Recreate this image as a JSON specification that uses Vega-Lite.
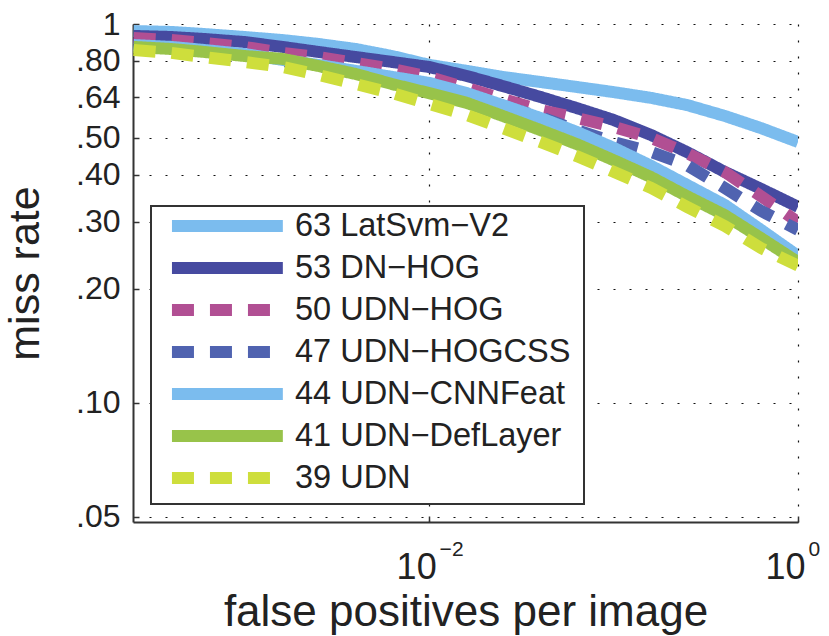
{
  "$schema": "https://vega.github.io/schema/vega-lite/v6.json",
  "width": 665,
  "height": 498,
  "autosize": {"type": "none"},
  "padding": {"left": 133, "top": 24, "right": 31, "bottom": 114},
  "background": "white",
  "config": {"view": {"stroke": null}, "font": "Liberation Sans"},
  "data": {"values": [
    {"s":"63 LatSvm−V2","f":0.00025,"m":0.958},{"s":"63 LatSvm−V2","f":0.0004,"m":0.953},{"s":"63 LatSvm−V2","f":0.0006,"m":0.941},{"s":"63 LatSvm−V2","f":0.001,"m":0.924},{"s":"63 LatSvm−V2","f":0.0016,"m":0.907},{"s":"63 LatSvm−V2","f":0.0025,"m":0.886},{"s":"63 LatSvm−V2","f":0.004,"m":0.859},{"s":"63 LatSvm−V2","f":0.0063,"m":0.823},{"s":"63 LatSvm−V2","f":0.01,"m":0.780},{"s":"63 LatSvm−V2","f":0.016,"m":0.752},{"s":"63 LatSvm−V2","f":0.025,"m":0.725},{"s":"63 LatSvm−V2","f":0.04,"m":0.703},{"s":"63 LatSvm−V2","f":0.063,"m":0.682},{"s":"63 LatSvm−V2","f":0.1,"m":0.661},{"s":"63 LatSvm−V2","f":0.16,"m":0.638},{"s":"63 LatSvm−V2","f":0.25,"m":0.611},{"s":"63 LatSvm−V2","f":0.4,"m":0.572},{"s":"63 LatSvm−V2","f":0.63,"m":0.531},{"s":"63 LatSvm−V2","f":1,"m":0.488},
    {"s":"53 DN−HOG","f":0.00025,"m":0.930},{"s":"53 DN−HOG","f":0.0004,"m":0.924},{"s":"53 DN−HOG","f":0.0006,"m":0.913},{"s":"53 DN−HOG","f":0.001,"m":0.896},{"s":"53 DN−HOG","f":0.0016,"m":0.870},{"s":"53 DN−HOG","f":0.0025,"m":0.844},{"s":"53 DN−HOG","f":0.004,"m":0.818},{"s":"53 DN−HOG","f":0.0063,"m":0.794},{"s":"53 DN−HOG","f":0.01,"m":0.770},{"s":"53 DN−HOG","f":0.016,"m":0.729},{"s":"53 DN−HOG","f":0.025,"m":0.686},{"s":"53 DN−HOG","f":0.04,"m":0.642},{"s":"53 DN−HOG","f":0.063,"m":0.600},{"s":"53 DN−HOG","f":0.1,"m":0.558},{"s":"53 DN−HOG","f":0.16,"m":0.509},{"s":"53 DN−HOG","f":0.25,"m":0.459},{"s":"53 DN−HOG","f":0.4,"m":0.407},{"s":"53 DN−HOG","f":0.63,"m":0.367},{"s":"53 DN−HOG","f":1,"m":0.329},
    {"s":"50 UDN−HOG","f":0.00025,"m":0.918},{"s":"50 UDN−HOG","f":0.0004,"m":0.907},{"s":"50 UDN−HOG","f":0.0006,"m":0.891},{"s":"50 UDN−HOG","f":0.001,"m":0.870},{"s":"50 UDN−HOG","f":0.0016,"m":0.839},{"s":"50 UDN−HOG","f":0.0025,"m":0.818},{"s":"50 UDN−HOG","f":0.004,"m":0.789},{"s":"50 UDN−HOG","f":0.0063,"m":0.761},{"s":"50 UDN−HOG","f":0.01,"m":0.725},{"s":"50 UDN−HOG","f":0.016,"m":0.678},{"s":"50 UDN−HOG","f":0.025,"m":0.634},{"s":"50 UDN−HOG","f":0.04,"m":0.593},{"s":"50 UDN−HOG","f":0.063,"m":0.565},{"s":"50 UDN−HOG","f":0.1,"m":0.535},{"s":"50 UDN−HOG","f":0.16,"m":0.500},{"s":"50 UDN−HOG","f":0.25,"m":0.456},{"s":"50 UDN−HOG","f":0.4,"m":0.407},{"s":"50 UDN−HOG","f":0.63,"m":0.351},{"s":"50 UDN−HOG","f":1,"m":0.300},
    {"s":"47 UDN−HOGCSS","f":0.00025,"m":0.875},{"s":"47 UDN−HOGCSS","f":0.0004,"m":0.864},{"s":"47 UDN−HOGCSS","f":0.0006,"m":0.849},{"s":"47 UDN−HOGCSS","f":0.001,"m":0.828},{"s":"47 UDN−HOGCSS","f":0.0016,"m":0.799},{"s":"47 UDN−HOGCSS","f":0.0025,"m":0.775},{"s":"47 UDN−HOGCSS","f":0.004,"m":0.742},{"s":"47 UDN−HOGCSS","f":0.0063,"m":0.712},{"s":"47 UDN−HOGCSS","f":0.01,"m":0.678},{"s":"47 UDN−HOGCSS","f":0.016,"m":0.642},{"s":"47 UDN−HOGCSS","f":0.025,"m":0.607},{"s":"47 UDN−HOGCSS","f":0.04,"m":0.568},{"s":"47 UDN−HOGCSS","f":0.063,"m":0.525},{"s":"47 UDN−HOGCSS","f":0.1,"m":0.488},{"s":"47 UDN−HOGCSS","f":0.16,"m":0.459},{"s":"47 UDN−HOGCSS","f":0.25,"m":0.424},{"s":"47 UDN−HOGCSS","f":0.4,"m":0.369},{"s":"47 UDN−HOGCSS","f":0.63,"m":0.321},{"s":"47 UDN−HOGCSS","f":1,"m":0.286},
    {"s":"44 UDN−CNNFeat","f":0.00025,"m":0.880},{"s":"44 UDN−CNNFeat","f":0.0004,"m":0.870},{"s":"44 UDN−CNNFeat","f":0.0006,"m":0.854},{"s":"44 UDN−CNNFeat","f":0.001,"m":0.833},{"s":"44 UDN−CNNFeat","f":0.0016,"m":0.804},{"s":"44 UDN−CNNFeat","f":0.0025,"m":0.780},{"s":"44 UDN−CNNFeat","f":0.004,"m":0.752},{"s":"44 UDN−CNNFeat","f":0.0063,"m":0.725},{"s":"44 UDN−CNNFeat","f":0.01,"m":0.699},{"s":"44 UDN−CNNFeat","f":0.016,"m":0.657},{"s":"44 UDN−CNNFeat","f":0.025,"m":0.611},{"s":"44 UDN−CNNFeat","f":0.04,"m":0.565},{"s":"44 UDN−CNNFeat","f":0.063,"m":0.519},{"s":"44 UDN−CNNFeat","f":0.1,"m":0.471},{"s":"44 UDN−CNNFeat","f":0.16,"m":0.422},{"s":"44 UDN−CNNFeat","f":0.25,"m":0.376},{"s":"44 UDN−CNNFeat","f":0.4,"m":0.333},{"s":"44 UDN−CNNFeat","f":0.63,"m":0.286},{"s":"44 UDN−CNNFeat","f":1,"m":0.244},
    {"s":"41 UDN−DefLayer","f":0.00025,"m":0.870},{"s":"41 UDN−DefLayer","f":0.0004,"m":0.859},{"s":"41 UDN−DefLayer","f":0.0006,"m":0.844},{"s":"41 UDN−DefLayer","f":0.001,"m":0.823},{"s":"41 UDN−DefLayer","f":0.0016,"m":0.809},{"s":"41 UDN−DefLayer","f":0.0025,"m":0.775},{"s":"41 UDN−DefLayer","f":0.004,"m":0.738},{"s":"41 UDN−DefLayer","f":0.0063,"m":0.694},{"s":"41 UDN−DefLayer","f":0.01,"m":0.657},{"s":"41 UDN−DefLayer","f":0.016,"m":0.619},{"s":"41 UDN−DefLayer","f":0.025,"m":0.572},{"s":"41 UDN−DefLayer","f":0.04,"m":0.525},{"s":"41 UDN−DefLayer","f":0.063,"m":0.482},{"s":"41 UDN−DefLayer","f":0.1,"m":0.437},{"s":"41 UDN−DefLayer","f":0.16,"m":0.394},{"s":"41 UDN−DefLayer","f":0.25,"m":0.351},{"s":"41 UDN−DefLayer","f":0.4,"m":0.313},{"s":"41 UDN−DefLayer","f":0.63,"m":0.272},{"s":"41 UDN−DefLayer","f":1,"m":0.235},
    {"s":"39 UDN","f":0.00025,"m":0.854},{"s":"39 UDN","f":0.0004,"m":0.839},{"s":"39 UDN","f":0.0006,"m":0.818},{"s":"39 UDN","f":0.001,"m":0.794},{"s":"39 UDN","f":0.0016,"m":0.770},{"s":"39 UDN","f":0.0025,"m":0.734},{"s":"39 UDN","f":0.004,"m":0.694},{"s":"39 UDN","f":0.0063,"m":0.657},{"s":"39 UDN","f":0.01,"m":0.615},{"s":"39 UDN","f":0.016,"m":0.575},{"s":"39 UDN","f":0.025,"m":0.531},{"s":"39 UDN","f":0.04,"m":0.488},{"s":"39 UDN","f":0.063,"m":0.448},{"s":"39 UDN","f":0.1,"m":0.407},{"s":"39 UDN","f":0.16,"m":0.369},{"s":"39 UDN","f":0.25,"m":0.329},{"s":"39 UDN","f":0.4,"m":0.293},{"s":"39 UDN","f":0.63,"m":0.256},{"s":"39 UDN","f":1,"m":0.230}
  ]},
  "layer": [
    {
      "mark": {"type": "line", "strokeWidth": 12, "clip": true, "strokeCap": "butt"},
      "encoding": {
        "x": {
          "field": "f", "type": "quantitative",
          "scale": {"type": "log", "domain": [0.000248, 1]},
          "axis": {
            "orient": "bottom",
            "values": [0.01, 1],
            "labelExpr": "'10'",
            "labelFlush": false, "labelOverlap": false,
            "labelFontSize": 36, "labelColor": "#222", "labelPadding": 62, "labelBaseline": "alphabetic", "labelOffset": -13,
            "title": "false positives per image", "titleFontSize": 44, "titleFontWeight": "normal", "titleColor": "#222",
            "titleBaseline": "alphabetic", "titleY": 103,
            "grid": true, "gridColor": "#111", "gridDash": [2, 14], "gridWidth": 1.2,
            "domainColor": "#333", "domainWidth": 2,
            "tickSize": -6, "tickColor": "#333", "tickWidth": 1.5
          }
        },
        "y": {
          "field": "m", "type": "quantitative",
          "scale": {"type": "log", "domain": [0.0484, 1]},
          "axis": {
            "values": [0.05, 0.1, 0.2, 0.3, 0.4, 0.5, 0.64, 0.8, 1],
            "labelExpr": "datum.value == 1 ? '1' : replace(format(datum.value, '.2f'), '0.', '.')",
            "labelOverlap": false,
            "labelFontSize": 32, "labelColor": "#222", "labelPadding": 19,
            "title": "miss rate", "titleFontSize": 43, "titleFontWeight": "normal", "titleColor": "#222",
            "titleBaseline": "alphabetic", "titleX": -95,
            "grid": true, "gridColor": "#111", "gridDash": [2, 14], "gridWidth": 1.2,
            "domainColor": "#333", "domainWidth": 2,
            "tickSize": -6, "tickColor": "#333", "tickWidth": 1.5
          }
        },
        "color": {
          "field": "s", "type": "nominal",
          "scale": {
            "domain": ["63 LatSvm−V2", "53 DN−HOG", "50 UDN−HOG", "47 UDN−HOGCSS", "44 UDN−CNNFeat", "41 UDN−DefLayer", "39 UDN"],
            "range": ["#7BBCEE", "#464AA0", "#B14F93", "#5063B0", "#7BBCEE", "#98C34A", "#CEDE3C"]
          },
          "legend": {
            "title": " ", "titleOrient": "right", "titleFontSize": 2, "titlePadding": 12,
            "orient": "bottom-left", "offset": 18, "padding": 2,
            "strokeColor": "#333", "fillColor": "white",
            "symbolType": "M-4.62,0H4.62", "symbolSize": 576, "symbolStrokeWidth": 12, "symbolOffset": 56.4,
            "labelFontSize": 32.5, "labelColor": "#222", "labelOffset": 49.6, "labelLimit": 400, "rowPadding": -10.5,
            "encode": {"legend": {"update": {"strokeWidth": {"value": 2}}}}
          }
        },
        "strokeDash": {
          "field": "s", "type": "nominal",
          "scale": {
            "domain": ["63 LatSvm−V2", "53 DN−HOG", "50 UDN−HOG", "47 UDN−HOGCSS", "44 UDN−CNNFeat", "41 UDN−DefLayer", "39 UDN"],
            "range": [[1, 0], [1, 0], [22, 16], [22, 16], [1, 0], [1, 0], [22, 16]]
          },
          "legend": {
            "title": " ", "titleOrient": "right", "titleFontSize": 2, "titlePadding": 12,
            "orient": "bottom-left", "offset": 18, "padding": 2,
            "strokeColor": "#333", "fillColor": "white",
            "symbolType": "M-4.62,0H4.62", "symbolSize": 576, "symbolStrokeWidth": 12, "symbolOffset": 56.4,
            "labelFontSize": 32.5, "labelColor": "#222", "labelOffset": 49.6, "labelLimit": 400, "rowPadding": -10.5,
            "encode": {"legend": {"update": {"strokeWidth": {"value": 2}}}}
          }
        }
      }
    },
    {
      "mark": {"type": "line", "strokeOpacity": 0, "clip": true},
      "encoding": {
        "detail": {"field": "s"},
        "x": {
          "field": "f", "type": "quantitative",
          "scale": {"type": "log", "domain": [0.000248, 1]},
          "axis": {
            "orient": "top", "offset": -531,
            "values": [0.01, 1],
            "labelExpr": "datum.value < 0.5 ? '−2' : '0'",
            "labelFlush": false, "labelOverlap": false,
            "labelFontSize": 21, "labelColor": "#222", "labelPadding": 0, "labelBaseline": "alphabetic",
            "labelAlign": "left", "labelOffset": 10,
            "title": null, "grid": false, "domain": false, "ticks": false
          }
        },
        "y": {"field": "m", "type": "quantitative", "scale": {"type": "log", "domain": [0.0484, 1]}}
      }
    }
  ],
  "resolve": {"axis": {"x": "independent"}}
}
